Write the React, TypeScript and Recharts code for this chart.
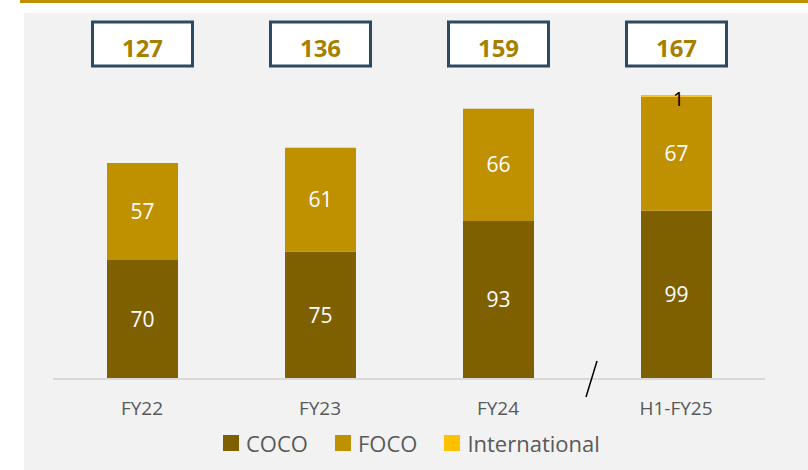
import React from 'react';
import { BarChart, Bar, XAxis, YAxis, Legend, LabelList } from 'recharts';

const categories = ['FY22', 'FY23', 'FY24', 'H1-FY25'];
const coco = [70, 75, 93, 99];
const foco = [57, 61, 66, 67];
const international = [0, 0, 0, 1];
const totals = [127, 136, 159, 167];

const data = categories.map((c, i) => ({
  name: c,
  COCO: coco[i],
  FOCO: foco[i],
  International: international[i],
  total: totals[i],
}));

const FONT = '"Open Sans", "Noto Sans", sans-serif';
const COLORS = { COCO: '#7F6000', FOCO: '#BF9000', International: '#FFC000' };

const TotalBox = (props: any) => {
  const { x, width, index } = props;
  const cx = Number(x) + Number(width) / 2;
  return (
    <g>
      <rect x={cx - 50} y={22} width={100} height={44} fill="#FFFFFF" stroke="#2E4A62" strokeWidth={3} />
      <text x={cx} y={57} textAnchor="middle" fontFamily={FONT} fontWeight={700} fontSize={24} fill="#A67F00">
        {totals[index]}
      </text>
    </g>
  );
};

const IntlLabel = (props: any) => {
  const { x, y, width, value } = props;
  if (!value) return null;
  const cx = Number(x) + Number(width) / 2 + 2;
  return (
    <text x={cx} y={Number(y) + 11} textAnchor="middle" fontFamily={FONT} fontSize={20} fill="#000000">
      {value}
    </text>
  );
};

const Tick = (props: any) => {
  const { x, payload } = props;
  return (
    <text x={x} y={415} textAnchor="middle" fontFamily={FONT} fontSize={19} fill="#595959">
      {payload.value}
    </text>
  );
};

const LegendContent = () => {
  const items = ['COCO', 'FOCO', 'International'] as const;
  return (
    <div style={{ display: 'flex', alignItems: 'center', height: 44, paddingLeft: 223, boxSizing: 'border-box' }}>
      {items.map((k, i) => (
        <div key={k} style={{ display: 'flex', alignItems: 'center', marginRight: i < 2 ? 27 : 0 }}>
          <div style={{ width: 16, height: 16, background: COLORS[k], marginRight: 7 }} />
          <span style={{ fontFamily: FONT, fontSize: 22, color: '#595959', lineHeight: '44px' }}>{k}</span>
        </div>
      ))}
    </div>
  );
};

export default function App() {
  return (
    <div style={{ position: 'absolute', left: 0, top: 0, width: 808, height: 470, background: '#FFFFFF', overflow: 'hidden' }}>
      <div style={{ position: 'absolute', left: 20, top: 0, width: 788, height: 3, background: '#C09000' }} />
      <div style={{ position: 'absolute', left: 24, top: 13, width: 784, height: 457, background: '#F2F2F2' }} />
      <div style={{ position: 'absolute', left: 0, top: 0 }}>
        <BarChart
          width={808}
          height={470}
          data={data}
          margin={{ top: 39, right: 43, bottom: 5, left: 53 }}
          barSize={71}
        >
          <XAxis
            dataKey="name"
            axisLine={{ stroke: '#D9D9D9', strokeWidth: 2 }}
            tickLine={false}
            height={42}
            tick={<Tick />}
            interval={0}
          />
          <YAxis hide domain={[0, 200]} />
          <Legend
            verticalAlign="bottom"
            content={<LegendContent />}
            wrapperStyle={{ left: 0, width: 808, height: 44 }}
          />
          <Bar dataKey="COCO" stackId="a" fill={COLORS.COCO} isAnimationActive={false}>
            <LabelList dataKey="COCO" position="center" fill="#FFFFFF" fontFamily={FONT} fontSize={21} />
          </Bar>
          <Bar dataKey="FOCO" stackId="a" fill={COLORS.FOCO} isAnimationActive={false}>
            <LabelList dataKey="FOCO" position="center" fill="#FFFFFF" fontFamily={FONT} fontSize={21} />
            <LabelList dataKey="total" content={<TotalBox />} />
          </Bar>
          <Bar dataKey="International" stackId="a" fill={COLORS.International} isAnimationActive={false}>
            <LabelList dataKey="International" content={<IntlLabel />} />
          </Bar>
        </BarChart>
      </div>
      <svg style={{ position: 'absolute', left: 0, top: 0, pointerEvents: 'none' }} width={808} height={470}>
        <line x1={586} y1={397} x2={597} y2={361} stroke="#000000" strokeWidth={1.5} />
      </svg>
    </div>
  );
}
